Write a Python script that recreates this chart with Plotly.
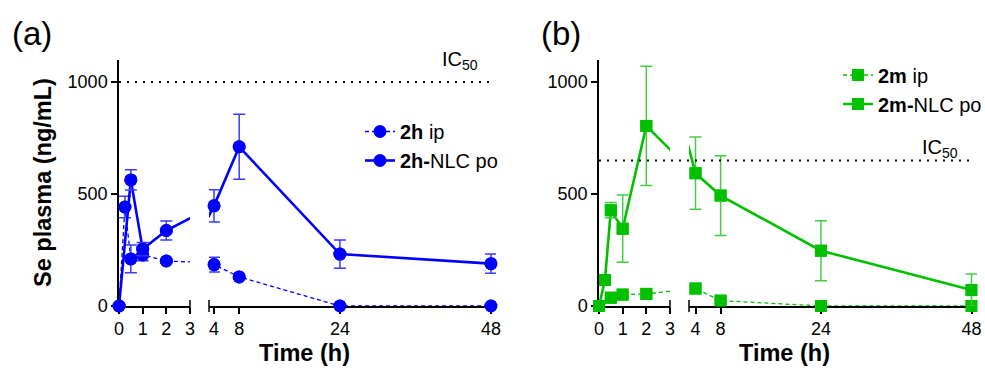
import plotly.graph_objects as go

W, H = 985, 368

# ---------------- data ----------------
t_a_ip = [0, 0.25, 0.5, 1, 2, 4, 8, 24, 48]
se_a_ip = [0, 442, 210, 228, 201, 185, 130, 0, 0]
err_a_ip = [0, 48, 62, 26, 10, 33, 10, 0, 0]

t_a_nlc = [0, 0.5, 1, 2, 4, 8, 24, 48]
se_a_nlc = [0, 563, 254, 337, 447, 711, 232, 189]
err_a_nlc = [0, 45, 30, 42, 72, 145, 63, 43]

t_b_ip = [0, 0.5, 1, 2, 4, 8, 24, 48]
se_b_ip = [0, 37, 51, 54, 78, 24, 0, 0]
err_b_ip = [0, 8, 8, 8, 8, 6, 0, 0]

t_b_nlc = [0, 0.25, 0.5, 1, 2, 4, 8, 24, 48]
se_b_nlc = [0, 116, 428, 345, 804, 593, 493, 247, 71]
err_b_nlc = [0, 10, 34, 150, 266, 161, 178, 134, 72]

ic50_a = 1000
ic50_b = 650

ticks_left = [0, 1, 2, 3]
ticks_right = [4, 8, 24, 48]
ticks_y = [0, 500, 1000]

BLUE, BLUE_ERR = "#0000FF", "#3A3AFF"
GREEN, GREEN_ERR = "#00C000", "#45CC45"
FONT = "Arial, Liberation Sans, sans-serif"


def fx(p):
    return p / W


def fy(p):
    return 1 - p / H


# layout geometry (pixels)
Y0, YTOP = 306, 59.6
seg = {
    "x": dict(dom=(119, 190), rng=(0, 3), ticks=ticks_left),
    "x2": dict(dom=(209, 496), rng=(3.206, 48.794), ticks=ticks_right),
    "x3": dict(dom=(599, 670), rng=(0, 3), ticks=ticks_left),
    "x4": dict(dom=(689, 977), rng=(2.964, 48.877), ticks=ticks_right),
}

fig = go.Figure()


def add_series(t, y, e, xaxes, yaxis, color, ecolor, dash, width, symbol, size, name, legend):
    for i, xa in enumerate(xaxes):
        lo, hi = seg[xa]["rng"]
        fig.add_trace(go.Scatter(
            x=t, y=y, xaxis=xa, yaxis=yaxis, mode="lines+markers",
            line=dict(color=color, width=width, dash=dash),
            marker=dict(color=color, size=size, symbol=symbol, line=dict(width=0)),
            name=name, legend=legend, showlegend=(i == 0), hoverinfo="skip"))
        tt = [a for a in t if lo <= a <= hi]
        yy = [b for a, b in zip(t, y) if lo <= a <= hi]
        ee = [c for a, c in zip(t, e) if lo <= a <= hi]
        fig.add_trace(go.Scatter(
            x=tt, y=yy, xaxis=xa, yaxis=yaxis, mode="markers", cliponaxis=False,
            marker=dict(color=color, size=size, symbol=symbol, line=dict(width=0)),
            error_y=dict(type="data", array=ee, visible=True, color=ecolor,
                         thickness=1.5, width=6),
            showlegend=False, hoverinfo="skip"))


add_series(t_a_ip, se_a_ip, err_a_ip, ["x", "x2"], "y", BLUE, BLUE_ERR,
           "4px,3px", 1.3, "circle", 13, "<b>2h</b> ip", "legend")
add_series(t_a_nlc, se_a_nlc, err_a_nlc, ["x", "x2"], "y", BLUE, BLUE_ERR,
           "solid", 2.6, "circle", 13, "<b>2h-</b>NLC po", "legend")
add_series(t_b_ip, se_b_ip, err_b_ip, ["x3", "x4"], "y2", GREEN, GREEN_ERR,
           "4px,3px", 1.3, "square", 12, "<b>2m</b> ip", "legend2")
add_series(t_b_nlc, se_b_nlc, err_b_nlc, ["x3", "x4"], "y2", GREEN, GREEN_ERR,
           "solid", 2.6, "square", 12, "<b>2m-</b>NLC po", "legend2")

axis_common = dict(showgrid=False, zeroline=False, showline=True, linecolor="black",
                   linewidth=1.5, ticks="outside", ticklen=6, tickwidth=1.5,
                   tickcolor="black", tickfont=dict(family=FONT, size=18, color="black"),
                   layer="below traces", fixedrange=True, automargin=False)

layout = dict(
    width=W, height=H, margin=dict(l=0, r=0, t=0, b=0, pad=0, autoexpand=False),
    paper_bgcolor="white", plot_bgcolor="rgba(0,0,0,0)",
    font=dict(family=FONT, color="black"),
)
anchors = {"x": "y", "x2": "y", "x3": "y2", "x4": "y2"}
for xa, s in seg.items():
    name = "xaxis" if xa == "x" else "xaxis" + xa[1:]
    layout[name] = dict(axis_common, domain=[fx(s["dom"][0]), fx(s["dom"][1])],
                        range=list(s["rng"]), tickvals=s["ticks"],
                        ticktext=[str(v) for v in s["ticks"]], anchor=anchors[xa])
for ya, xa in [("yaxis", "x"), ("yaxis2", "x3")]:
    layout[ya] = dict(axis_common, domain=[fy(Y0), fy(YTOP)], range=[0, 1100],
                      tickvals=ticks_y, anchor=xa)

layout["legend"] = dict(x=fx(360), y=fy(146), xanchor="left", yanchor="middle",
                        font=dict(family=FONT, size=20, color="black"),
                        bgcolor="rgba(0,0,0,0)", tracegroupgap=0)
layout["legend2"] = dict(x=fx(838), y=fy(89.5), xanchor="left", yanchor="middle",
                         font=dict(family=FONT, size=20, color="black"),
                         bgcolor="rgba(0,0,0,0)", tracegroupgap=0)
fig.update_layout(**layout)

# IC50 dotted lines
fig.add_shape(type="line", xref="paper", yref="y", x0=fx(119), x1=fx(492),
              y0=ic50_a, y1=ic50_a, line=dict(color="black", width=2, dash="2px,6px"))
fig.add_shape(type="line", xref="paper", yref="y2", x0=fx(599), x1=fx(973),
              y0=ic50_b, y1=ic50_b, line=dict(color="black", width=2, dash="2px,6px"))

# axis break marks
for px in [190, 209, 670, 689]:
    fig.add_shape(type="line", xref="paper", yref="paper", x0=fx(px), x1=fx(px),
                  y0=fy(300), y1=fy(312), line=dict(color="black", width=1.5))

ann = [
    dict(text="IC<sub>50</sub>", x=fx(460), y=fy(60), size=20),
    dict(text="IC<sub>50</sub>", x=fx(940), y=fy(148), size=20),
    dict(text="(a)", x=fx(32), y=fy(34), size=33),
    dict(text="(b)", x=fx(561), y=fy(34), size=33),
    dict(text="<b>Time (h)</b>", x=fx(304), y=fy(353), size=23.5),
    dict(text="<b>Time (h)</b>", x=fx(784), y=fy(353), size=23.5),
]
for a in ann:
    fig.add_annotation(text=a["text"], x=a["x"], y=a["y"], xref="paper", yref="paper",
                       showarrow=False, xanchor="center", yanchor="middle",
                       font=dict(family=FONT, size=a["size"], color="black"))
fig.add_annotation(text="<b>Se plasma (ng/mL)</b>", x=fx(43), y=fy(183), xref="paper",
                   yref="paper", showarrow=False, textangle=-90, xanchor="center",
                   yanchor="middle", font=dict(family=FONT, size=23.5, color="black"))

fig.write_html("out.html")
